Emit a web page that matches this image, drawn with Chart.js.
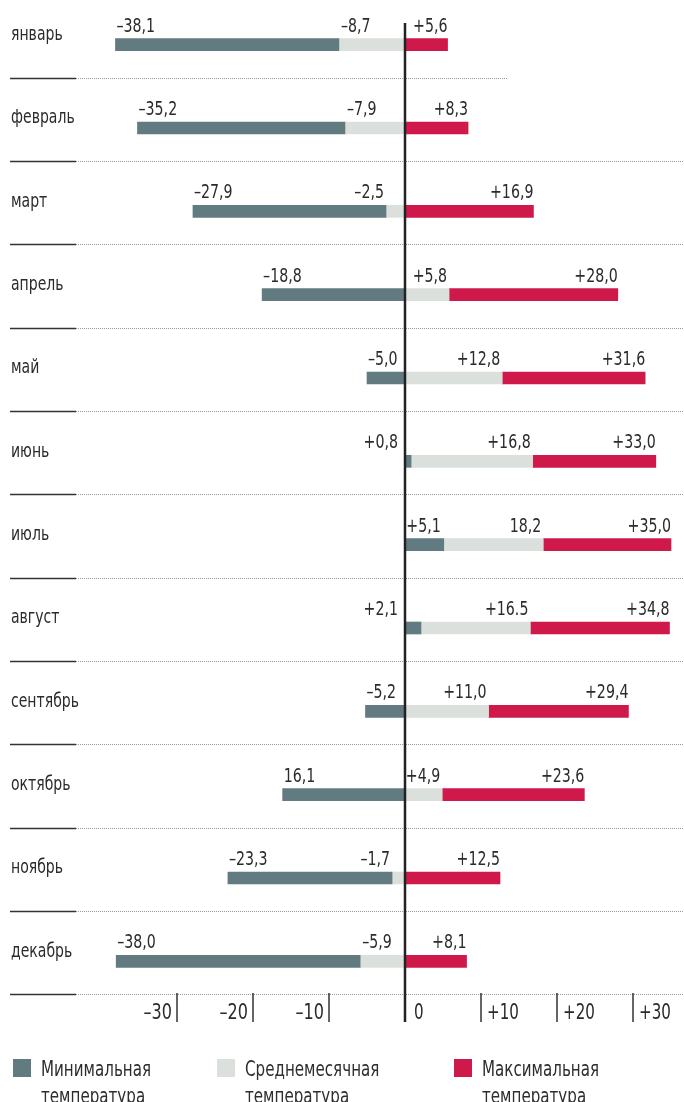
<!DOCTYPE html>
<html>
<head>
<meta charset="utf-8">
<script src="https://cdn.jsdelivr.net/npm/chart.js@4.4.0/dist/chart.umd.min.js"></script>
<style>
  body { margin: 0; background: #fff; overflow: hidden; }
  #wrap { position: relative; width: 684px; height: 1102px; }
  .lg { position: absolute; top: 1056px; font-family: "DejaVu Sans Condensed", "DejaVu Sans", sans-serif; font-size: 21px; line-height: 27px; color: #2e2e2e; white-space: nowrap; }
  .lg span { display: inline-block; transform: scaleX(0.8); transform-origin: left top; }
  .lg i { position: absolute; left: -28px; top: 3px; width: 18px; height: 18px; }
</style>
</head>
<body>
<div id="wrap">
  <canvas id="temps" width="684" height="1102"></canvas>
  <div class="lg" style="left:41px"><i style="background:#627b80"></i><span>Минимальная<br>температура</span></div>
  <div class="lg" style="left:245px"><i style="background:#dbe0dc"></i><span>Среднемесячная<br>температура</span></div>
  <div class="lg" style="left:482px"><i style="background:#d0194b"></i><span>Максимальная<br>температура</span></div>
</div>
<script>
var months = ['январь', 'февраль', 'март', 'апрель', 'май', 'июнь', 'июль', 'август', 'сентябрь', 'октябрь', 'ноябрь', 'декабрь'];
var minTemp = [-38.1, -35.2, -27.9, -18.8, -5.0, 0.8, 5.1, 2.1, -5.2, -16.1, -23.3, -38.0];
var avgTemp = [-8.7, -7.9, -2.5, 5.8, 12.8, 16.8, 18.2, 16.5, 11.0, 4.9, -1.7, -5.9];
var maxTemp = [5.6, 8.3, 16.9, 28.0, 31.6, 33.0, 35.0, 34.8, 29.4, 23.6, 12.5, 8.1];
var minLabels = ['–38,1', '–35,2', '–27,9', '–18,8', '–5,0', '+0,8', '+5,1', '+2,1', '–5,2', '16,1', '–23,3', '–38,0'];
var avgLabels = ['–8,7', '–7,9', '–2,5', '+5,8', '+12,8', '+16,8', '18,2', '+16.5', '+11,0', '+4,9', '–1,7', '–5,9'];
var maxLabels = ['+5,6', '+8,3', '+16,9', '+28,0', '+31,6', '+33,0', '+35,0', '+34,8', '+29,4', '+23,6', '+12,5', '+8,1'];
var tickValues = [-30, -20, -10, 0, 10, 20, 30];
var tickLabels = ['–30', '–20', '–10', '0', '+10', '+20', '+30'];

var FONT = '"DejaVu Sans Condensed", "DejaVu Sans", sans-serif';

// segments between min / avg / max, split at zero
var minSeg = minTemp.map(function (m, i) { return m < 0 ? [m, Math.min(avgTemp[i], 0)] : [0, m]; });
var avgSeg = avgTemp.map(function (a, i) { return a < 0 ? [a, 0] : [Math.max(minTemp[i], 0), a]; });
var maxSeg = maxTemp.map(function (x, i) { return [Math.max(avgTemp[i], 0), x]; });

// condensed text: font size + horizontal squeeze
function txtWidth(ctx, s, size, sx) {
  ctx.font = size + 'px ' + FONT;
  return ctx.measureText(s).width * sx;
}
function txt(ctx, s, x, y, align, size, sx) {
  ctx.save();
  ctx.font = size + 'px ' + FONT;
  ctx.translate(x, y);
  ctx.scale(sx, 1);
  ctx.textAlign = align;
  ctx.fillText(s, 0, 0);
  ctx.restore();
}

var textPlugin = {
  id: 'textPlugin',
  beforeDatasetsDraw: function (chart) {
    var ctx = chart.ctx, y = chart.scales.y;
    ctx.save();
    months.forEach(function (m, i) {
      var sy = Math.round(y.getPixelForValue(i) + 33) + 0.5;
      ctx.strokeStyle = '#333';
      ctx.lineWidth = 1.5;
      ctx.setLineDash([]);
      ctx.beginPath(); ctx.moveTo(10, sy); ctx.lineTo(76, sy); ctx.stroke();
      ctx.strokeStyle = '#999';
      ctx.lineWidth = 1;
      ctx.setLineDash([1, 1]);
      ctx.beginPath(); ctx.moveTo(76, sy); ctx.lineTo(i === 0 ? 508 : 684, sy); ctx.stroke();
    });
    ctx.restore();
  },
  afterDatasetsDraw: function (chart) {
    var ctx = chart.ctx, x = chart.scales.x, y = chart.scales.y;
    var x0 = x.getPixelForValue(0);
    var VS = 19, VX = 0.83;
    ctx.save();
    ctx.fillStyle = '#2b2b2b';
    ctx.textBaseline = 'middle';
    months.forEach(function (m, i) {
      var cy = y.getPixelForValue(i);
      txt(ctx, m, 11, cy - 10, 'left', 20, 0.78);

      var ly = cy - 18;
      // min
      var pm = x.getPixelForValue(minTemp[i]);
      var w = txtWidth(ctx, minLabels[i], VS, VX);
      if (minTemp[i] < 0) {
        txt(ctx, minLabels[i], pm + 1, ly, 'left', VS, VX);
      } else if (pm - w < x0 + 4) {
        txt(ctx, minLabels[i], x0 - 7, ly, 'right', VS, VX);
      } else {
        txt(ctx, minLabels[i], pm - 3, ly, 'right', VS, VX);
      }
      // avg
      var pa = x.getPixelForValue(avgTemp[i]);
      w = txtWidth(ctx, avgLabels[i], VS, VX);
      if (avgTemp[i] < 0 && pa + w + 2 <= x0 - 10) {
        txt(ctx, avgLabels[i], pa + 2, ly, 'left', VS, VX);
      } else {
        txt(ctx, avgLabels[i], pa - 2, ly, 'right', VS, VX);
      }
      // max
      txt(ctx, maxLabels[i], x.getPixelForValue(maxTemp[i]), ly, 'right', VS, VX);
    });

    // zero line
    ctx.strokeStyle = '#222';
    ctx.lineWidth = 2.5;
    ctx.beginPath(); ctx.moveTo(x0, 23); ctx.lineTo(x0, 1022); ctx.stroke();

    // ticks
    tickValues.forEach(function (v, k) {
      var px = x.getPixelForValue(v);
      if (v !== 0) {
        ctx.strokeStyle = '#333';
        ctx.lineWidth = 1.5;
        ctx.beginPath(); ctx.moveTo(px, 993); ctx.lineTo(px, 1022); ctx.stroke();
      }
      if (v < 0) txt(ctx, tickLabels[k], px - 5, 1014, 'right', 21, 0.85);
      else txt(ctx, tickLabels[k], px + (v === 0 ? 9 : 6), 1014, 'left', 21, 0.8);
    });
    ctx.restore();
  }
};

new Chart(document.getElementById('temps'), {
  type: 'bar',
  data: {
    labels: months,
    datasets: [
      { label: 'Минимальная температура', data: minSeg, backgroundColor: '#627b80', grouped: false, barThickness: 12 },
      { label: 'Среднемесячная температура', data: avgSeg, backgroundColor: '#dbe0dc', grouped: false, barThickness: 12 },
      { label: 'Максимальная температура', data: maxSeg, backgroundColor: '#d0194b', grouped: false, barThickness: 12 }
    ]
  },
  options: {
    indexAxis: 'y',
    responsive: false,
    animation: false,
    layout: { padding: { top: 3, bottom: 99, left: 0, right: 0 } },
    scales: {
      x: { display: false, min: -405 / 7.6, max: 279 / 7.6 },
      y: { display: false }
    },
    plugins: {
      legend: { display: false },
      tooltip: { enabled: false }
    }
  },
  plugins: [textPlugin]
});
</script>
</body>
</html>
